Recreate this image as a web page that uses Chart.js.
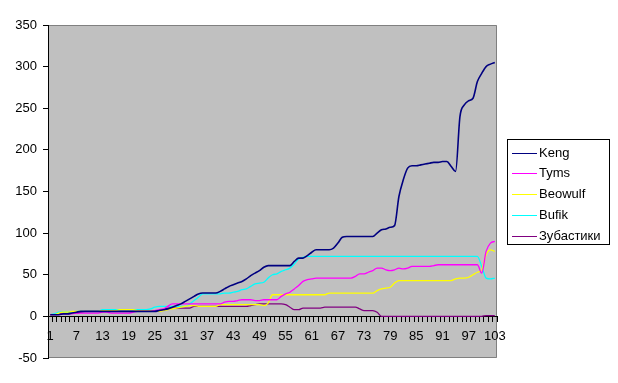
<!DOCTYPE html>
<html>
<head>
<meta charset="utf-8">
<script src="https://cdn.jsdelivr.net/npm/chart.js@4/dist/chart.umd.min.js"></script>
<style>
  body { margin: 0; background: #fff; }
  #wrap { width: 618px; height: 383px; }
</style>
</head>
<body>
<div id="wrap"><canvas id="chart" width="618" height="383"></canvas></div>
<script>
// categories 1..103
const categories = []
for (let i = 1; i <= 103; i++) categories.push(String(i))

const seriesNames = ["Keng", "Tyms", "Beowulf", "Bufik", "Зубастики"]
const seriesColors = ["#000080", "#ff00ff", "#ffff00", "#00ffff", "#800080"]

const keng = [
  2, 2, 2, 3, 3, 4, 5, 6, 6, 6,
  6, 6, 6, 6, 6, 6, 6, 6, 6, 6,
  6, 6, 6, 6, 6, 7, 8, 9, 11, 13,
  15, 18, 21, 24, 27, 28, 28, 28, 28, 30,
  33, 36, 38, 40, 42, 45, 49, 52, 55, 59,
  61, 61, 61, 61, 61, 61, 66, 70, 70, 73,
  77, 80, 80, 80, 80, 82, 88, 95, 96, 96,
  96, 96, 96, 96, 96, 100, 104, 105, 107, 109,
  144, 164, 178, 181, 181, 182, 183, 184, 185, 185,
  186, 186, 180, 174, 240, 254, 259, 262, 282, 292,
  300, 303, 305,
]
const tyms = [
  2, 2, 2, 3, 3, 3, 4, 4, 4, 4,
  4, 4, 5, 5, 4, 4, 4, 4, 4, 5,
  6, 6, 6, 6, 7, 8, 9, 12, 15, 15,
  15, 15, 15, 15, 15, 15, 15, 15, 15, 15,
  17, 18, 18, 19, 20, 20, 20, 19, 19, 20,
  20, 20, 20, 24, 27, 29, 33, 37, 42, 44,
  45, 46, 46, 46, 46, 46, 46, 46, 46, 46,
  48, 51, 51, 53, 55, 58, 58, 56, 55, 56,
  58, 57, 58, 60, 60, 60, 60, 60, 61, 62,
  62, 62, 62, 62, 62, 62, 62, 62, 62, 52,
  78, 88, 90,
]
const beowulf = [
  2, 2, 4, 5, 5, 6, 6, 6, 6, 6,
  6, 6, 7, 7, 7, 7, 8, 8, 8, 8,
  7, 7, 7, 7, 7, 6, 7, 8, 9, 10,
  11, 12, 13, 13, 12, 12, 12, 12, 12, 14,
  14, 14, 14, 14, 14, 14, 14, 14, 14, 13,
  16, 26, 26, 26, 26, 26, 26, 26, 26, 26,
  26, 26, 26, 26, 28, 28, 28, 28, 28, 28,
  28, 28, 28, 28, 28, 31, 33, 34, 35, 40,
  43, 43, 43, 43, 43, 43, 43, 43, 43, 43,
  43, 43, 43, 45, 46, 46, 47, 50, 53, 56,
  74, 80, 78,
]
const bufik = [
  2, 3, 5, 5, 5, 5, 6, 6, 6, 6,
  6, 6, 8, 8, 8, 8, 8, 8, 8, 8,
  8, 8, 8, 9, 11, 12, 12, 12, 12, 12,
  12, 12, 15, 19, 23, 27, 27, 27, 27, 27,
  28, 28, 29, 30, 32, 33, 36, 39, 40, 41,
  46, 50, 51, 54, 56, 58, 63, 69, 71, 72,
  72, 72, 72, 72, 72, 72, 72, 72, 72, 72,
  72, 72, 72, 72, 72, 72, 72, 72, 72, 72,
  72, 72, 72, 72, 72, 72, 72, 72, 72, 72,
  72, 72, 72, 72, 72, 72, 72, 72, 72, 60,
  46, 45, 46,
]
const zubastiki = [
  2, 2, 3, 4, 4, 4, 4, 5, 6, 6,
  6, 6, 6, 6, 6, 6, 6, 6, 6, 6,
  6, 6, 6, 6, 6, 7, 8, 10, 10, 10,
  10, 10, 10, 12, 12, 12, 12, 12, 12, 12,
  12, 12, 12, 12, 12, 12, 13, 14, 15, 15,
  15, 15, 15, 15, 14, 11, 8, 8, 10, 10,
  10, 10, 10, 11, 11, 11, 11, 11, 11, 11,
  11, 9, 7, 7, 7, 5, 0, 0, 0, 0,
  0, 0, 0, 0, 0, 0, 0, 0, 0, 0,
  0, 0, 0, 0, 0, 0, 0, 0, 0, 0,
  1, 1, 1,
]

const yTicks = [-50, 0, 50, 100, 150, 200, 250, 300, 350]
const FONT = "'Liberation Sans', Arial, sans-serif"

// gray plot area with thin border, like the old Excel look
const plotArea = {
  id: "plotArea",
  beforeDraw(chart) {
    const { ctx, chartArea: a } = chart
    ctx.save()
    ctx.fillStyle = "#c0c0c0"
    ctx.fillRect(a.left, a.top, a.right - a.left, a.bottom - a.top)
    ctx.strokeStyle = "#808080"
    ctx.lineWidth = 1
    ctx.beginPath()
    ctx.moveTo(a.left, a.top + 0.5)
    ctx.lineTo(a.right - 0.5, a.top + 0.5)
    ctx.lineTo(a.right - 0.5, a.bottom - 0.5)
    ctx.lineTo(a.left, a.bottom - 0.5)
    ctx.stroke()
    ctx.restore()
  },
}

// legend box on the right
const boxLegend = {
  id: "boxLegend",
  afterDraw(chart) {
    const ctx = chart.ctx
    ctx.save()
    ctx.fillStyle = "#fff"
    ctx.fillRect(507.5, 139.5, 102, 105)
    ctx.strokeStyle = "#000"
    ctx.lineWidth = 1
    ctx.strokeRect(507.5, 139.5, 102, 105)
    ctx.font = "13px " + FONT
    ctx.textBaseline = "alphabetic"
    ctx.textAlign = "left"
    seriesNames.forEach((name, i) => {
      const y = 152.5 + i * 20.75
      ctx.strokeStyle = seriesColors[i]
      ctx.beginPath()
      ctx.moveTo(512, Math.round(y) + 0.5)
      ctx.lineTo(537, Math.round(y) + 0.5)
      ctx.stroke()
      ctx.fillStyle = "#000"
      ctx.fillText(name, 539, y + 4)
    })
    ctx.restore()
  },
}

const allSeries = [keng, tyms, beowulf, bufik, zubastiki]

new Chart(document.getElementById("chart"), {
  type: "line",
  data: {
    labels: categories,
    datasets: allSeries.map((d, i) => ({
      label: seriesNames[i],
      data: d,
      borderColor: seriesColors[i],
      borderWidth: i === 0 ? 1.6 : 1.3,
      pointRadius: 0,
      fill: false,
      cubicInterpolationMode: "monotone",
    })),
  },
  options: {
    responsive: false,
    animation: false,
    events: [],
    layout: { padding: { left: 0, right: 121, top: 25, bottom: 25 } },
    plugins: { legend: { display: false }, tooltip: { enabled: false } },
    scales: {
      x: {
        type: "category",
        position: { y: 0 },
        offset: true,
        afterFit: (s) => { s.height = 0 },
        grid: { offset: true, drawOnChartArea: false, tickLength: 5, color: "#000" },
        border: { color: "#000" },
        ticks: {
          autoSkip: false,
          maxRotation: 0,
          padding: 7,
          color: "#000",
          font: { size: 13, family: FONT },
          callback: (v, i) => (i % 6 === 0 ? categories[i] : ""),
        },
      },
      y: {
        min: yTicks[0],
        max: yTicks[yTicks.length - 1],
        afterFit: (s) => { s.width = 48 },
        afterBuildTicks: (s) => { s.ticks = yTicks.map((v) => ({ value: v })) },
        grid: { drawOnChartArea: false, tickLength: 5, color: "#000" },
        border: { color: "#000" },
        ticks: { padding: 6, color: "#000", font: { size: 13, family: FONT } },
      },
    },
  },
  plugins: [plotArea, boxLegend],
})
</script>
</body>
</html>
